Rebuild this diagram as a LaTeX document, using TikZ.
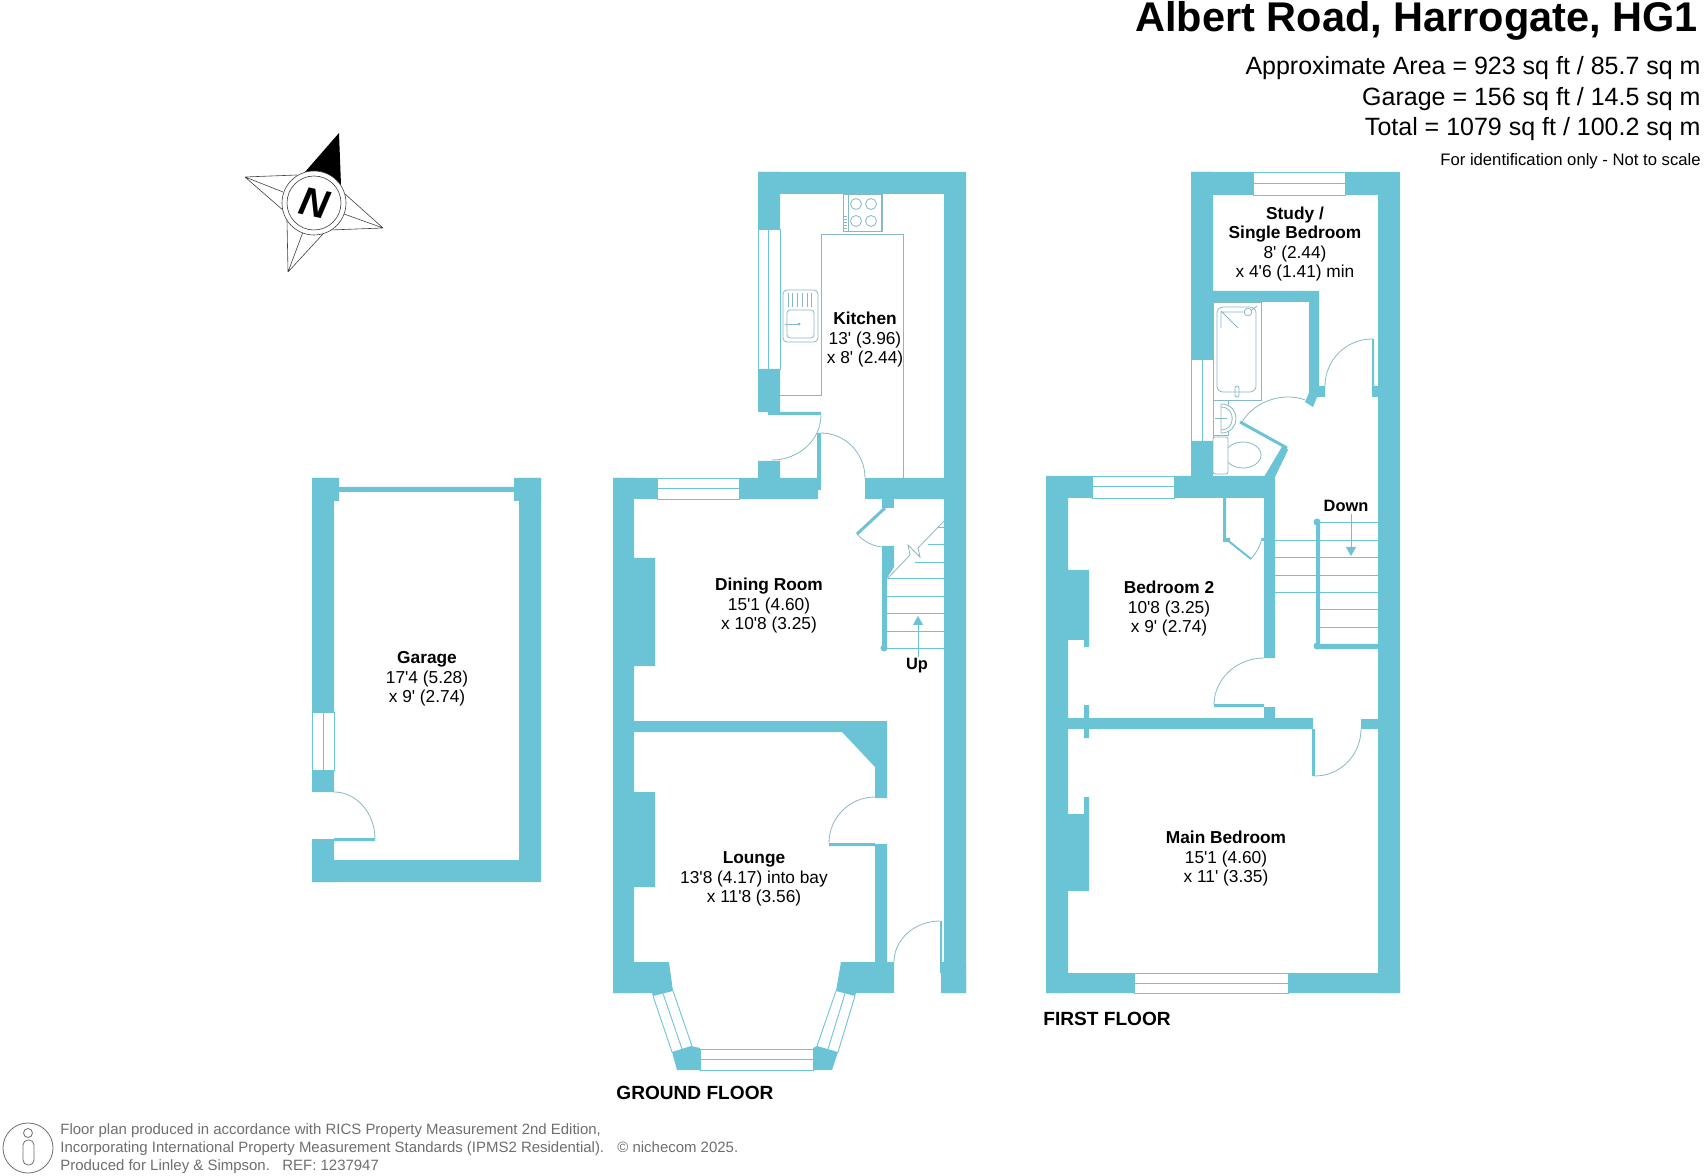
\documentclass[tikz,border=0pt]{standalone}
\usepackage{fontspec}
\usepackage{xcolor}
\usepackage{tikz}
\usetikzlibrary{calc}
\usetikzlibrary{arrows.meta}
\newfontfamily\planfont{Liberation Sans}
\definecolor{wallblue}{HTML}{6BC4D6}
\definecolor{swingblue}{HTML}{86B9C4}
\definecolor{footgray}{HTML}{6E6E6E}
\tikzstyle{wall}     = [fill=wallblue, draw=none]
\tikzstyle{leaf}     = [draw=wallblue, line width=1.5pt]
\tikzstyle{fine}     = [draw=wallblue, line width=0.45pt]
\tikzstyle{fixture}  = [draw=swingblue, line width=0.4pt, fill=white]
\tikzstyle{swing}    = [draw=swingblue, line width=0.4pt]
\tikzstyle{needle}   = [draw=black!75, line width=0.3pt]
\tikzstyle{room}     = [inner sep=0pt, align=center, font=\planfont\fontsize{8.65}{9.75}\selectfont]
\tikzstyle{floorname}= [inner sep=0pt, anchor=west, font=\planfont\bfseries\fontsize{9.55}{11}\selectfont]
\tikzstyle{stairnote}= [inner sep=0pt, font=\planfont\bfseries\fontsize{8.2}{10}\selectfont]
\tikzstyle{stairline}= [draw=wallblue, line width=0.45pt, -{Triangle[width=5pt,length=4.5pt]}]
\tikzstyle{title}    = [inner sep=0pt, anchor=base east, font=\planfont\bfseries\fontsize{20.75}{24}\selectfont]
\tikzstyle{areas}    = [inner sep=0pt, anchor=base east, font=\planfont\fontsize{12.5}{14}\selectfont]
\tikzstyle{foot}     = [inner sep=0pt, text=footgray, font=\planfont\fontsize{7.48}{9.1}\selectfont]
\newcommand{\doorswing}[3]{\draw[swing] (#1) .. controls ($(#1)!.55!(#2)$) and ($(#3)!.55!(#2)$) .. (#3);}
\newcommand{\glazing}[4]{\draw[fine] (#1) rectangle (#2) (#3) -- (#4);}
\begin{document}
\begin{tikzpicture}[x=0.5pt, y=-0.5pt]
	\useasboundingbox (0,0) rectangle (1704,1176);

	\node [title] (head) at (1698.5,32) {Albert Road, Harrogate, HG1};
	\node [areas] (area) at (1701,75) {Approximate Area = 923 sq ft / 85.7 sq m};
	\node [areas] (garagearea) at (1701,106) {Garage = 156 sq ft / 14.5 sq m};
	\node [areas] (total) at (1701,136) {Total = 1079 sq ft / 100.2 sq m};
	\node [inner sep=0pt, anchor=base east, font=\planfont\fontsize{8.33}{10}\selectfont] (noscale) at (1701,166) {For identification only - Not to scale};

	\fill [black] (305,172) -- (339,133) -- (341,185) -- cycle;
	\draw [needle] (245,177) -- (297,175) (245,177) -- (283,192) (245,177) -- (284,211);
	\draw [needle] (383,228) -- (345,194) (383,228) -- (344,214) (383,228) -- (330,230);
	\draw [needle] (288,272) -- (287,220) (288,272) -- (303,232) (288,272) -- (323,234);
	\draw [needle, fill=white] (314,203) circle (32);
	\draw [needle] (314,203) circle (27);
	\node [inner sep=0pt, rotate=-12, font=\planfont\bfseries\itshape\fontsize{20}{20}\selectfont] (north) at (314,203) {N};

	\fill [wall] (312,478) rectangle (339,501) (514,478) rectangle (541,501) (339,487) rectangle (514,492);
	\fill [wall] (312,478) rectangle (334,712) (312,770) rectangle (334,792) (312,839) rectangle (334,882);
	\fill [wall] (519,478) rectangle (541,882) (312,860) rectangle (541,882) (334,838) rectangle (375,841);
	\glazing{312,712}{334,770}{323,712}{323,770}
	\doorswing{334,792}{375,792}{375,839}
	\node [room] (garage) at (427,679) {\textbf{Garage}\\17'4 (5.28)\\x 9' (2.74)};

	\fill [wall] (758,172) rectangle (966,194) (944,172) rectangle (966,993);
	\fill [wall] (758,172) rectangle (780,229) (758,369) rectangle (780,412) (768,412) rectangle (821,415) (758,461) rectangle (780,478);
	\fill [wall] (613,478) rectangle (657,499) (739,478) rectangle (818,499) (865,478) rectangle (944,499) (817,433) rectangle (821,490);
	\fill [wall] (613,478) rectangle (634,993) (634,558) rectangle (655,666) (634,792) rectangle (655,887);
	\fill [wall] (634,721) -- (887,721) -- (887,798) -- (875,798) -- (875,767) -- (842,732) -- (634,732) -- cycle;
	\fill [wall] (875,844) rectangle (887,962) (829,843) rectangle (875,846) (940,921) rectangle (942,973) (941,962) rectangle (966,993);
	\fill [wall] (882,499) rectangle (894,508);
	\fill [wall] (882,546) -- (894,546) -- (894,567) -- (887,578) -- (887,648) -- (882,648) -- cycle;
	\fill [wall] (884,648) circle (3.5);
	\draw [leaf] (885,508) -- (857,534);
	\fill [wall] (634,962) -- (669,962) -- (673,991) -- (653,996) -- (652,993) -- (613,993) -- (613,962) -- cycle;
	\fill [wall] (841,962) -- (894,962) -- (894,993) -- (856,993) -- (855,996) -- (836,991) -- cycle;
	\fill [wall] (672,1052) -- (691,1046) -- (700,1048) -- (700,1070) -- (677,1070) -- cycle;
	\fill [wall] (813,1070) -- (813,1048) -- (817,1046) -- (838,1052) -- (832,1070) -- cycle;
	\glazing{758,229}{780,369}{768,229}{768,369}
	\glazing{657,478}{739,499}{657,488.5}{739,488.5}
	\glazing{700,1049}{813,1070}{700,1059.5}{813,1059.5}
	\draw [fine] (653,996) -- (672,1052) (673,991) -- (692,1046) (663,993.5) -- (682,1049);
	\draw [fine] (855,996) -- (838,1052) (836,991) -- (817,1046) (845,993.5) -- (828,1049);
	\doorswing{821,415}{821,460}{772,460}
	\doorswing{821,433}{865,433}{865,478}
	\doorswing{875,797}{829,797}{829,843}
	\doorswing{940,921}{894,921}{894,962}
	\draw [swing] (857,534) .. controls (863,541) and (872,546) .. (882,547);
	\draw [swing] (780,395) -- (821,395) -- (821,234) -- (903,234) -- (903,478);
	\draw [fixture] (843,194) rectangle (882,231);
	\draw [swing] (848,194) -- (848,231) (881,194) -- (881,231);
	\foreach \hobx in {856,871}
		\foreach \hoby in {204,221}
			\draw [swing] (\hobx,\hoby) circle (5.5);
	\foreach \knoby in {216,219,222,225,228}
		\draw [swing] (844,\knoby) -- (847,\knoby);
	\draw [fixture, rounded corners=2pt] (783,290) rectangle (818,342);
	\draw [swing, rounded corners=1.5pt] (787,310) rectangle (814,338);
	\foreach \groovex in {788,792,797,802,807,811}
		\draw [swing] (\groovex,293) -- (\groovex,307);
	\draw [swing] (785,324) -- (799,324);
	\fill [wallblue] (799,324) circle (1.5);
	\foreach \risery/\riserx in {578/887,596/887,613/887,631/887,648/887,562/915,544/928,527/938}
		\draw [fine] (\riserx,\risery) -- (944,\risery);
	\draw [swing] (888,578) -- (910,555) -- (908,545) -- (920,557) -- (918,548) -- (944,521);
	\node [stairnote] (up) at (917,666) {Up};
	\coordinate (uptip) at (918,616);
	\draw [stairline] (918,657) -- (uptip);
	\node [room] (kitchen) at (865,340) {\textbf{Kitchen}\\13' (3.96)\\x 8' (2.44)};
	\node [room] (dining) at (769,606) {\textbf{Dining Room}\\15'1 (4.60)\\x 10'8 (3.25)};
	\node [room] (lounge) at (754,879) {\textbf{Lounge}\\13'8 (4.17) into bay\\x 11'8 (3.56)};
	\node [floorname] (ground) at (616,1093) {GROUND FLOOR};

	\fill [wall] (1191,172) rectangle (1253,195) (1345,172) rectangle (1400,195) (1378,172) rectangle (1400,993);
	\fill [wall] (1191,172) rectangle (1213,359) (1191,441) rectangle (1213,478);
	\fill [wall] (1046,476) rectangle (1092,498) (1174,476) rectangle (1275,498) (1046,476) rectangle (1068,993);
	\fill [wall] (1046,973) rectangle (1134,993) (1288,973) rectangle (1400,993);
	\fill [wall] (1213,291) rectangle (1319,302) (1309,291) rectangle (1319,393);
	\fill [wall] (1309,386) -- (1325,386) -- (1325,397) -- (1317,397) -- (1313,407) -- (1305,402) -- (1309,393) -- cycle;
	\fill [wall] (1264,477) -- (1283,445) -- (1288,450) -- (1275,477) -- cycle;
	\draw [leaf] (1240,422) -- (1287,448);
	\fill [wall] (1372,339) rectangle (1374,397) (1372,386) rectangle (1378,397);
	\fill [wall] (1264,498) rectangle (1275,658) (1264,707) rectangle (1275,718) (1214,704) rectangle (1264,707);
	\fill [wall] (1223,498) rectangle (1226,542) (1223,538) rectangle (1230,542) (1262,538) rectangle (1264,541);
	\draw [leaf, line width=1pt] (1226,539) -- (1251,559);
	\fill [wall] (1068,570) rectangle (1089,640) (1084,640) rectangle (1089,647);
	\fill [wall] (1068,718) rectangle (1313,729) (1084,705) rectangle (1089,738) (1312,729) rectangle (1315,776) (1361,719) rectangle (1378,729);
	\fill [wall] (1084,797) rectangle (1089,814) (1068,814) rectangle (1089,891);
	\glazing{1253,172}{1345,195}{1253,183}{1345,183}
	\glazing{1191,359}{1213,441}{1202,359}{1202,441}
	\glazing{1092,476}{1174,498}{1092,486}{1174,486}
	\glazing{1134,973}{1288,993}{1134,983}{1288,983}
	\doorswing{1372,339}{1325,339}{1325,386}
	\doorswing{1264,658}{1214,658}{1214,705}
	\doorswing{1315,776}{1361,776}{1361,729}
	\draw [swing] (1242,422) .. controls (1255,400) and (1285,392) .. (1305,400);
	\draw [swing] (1251,559) .. controls (1256,553) and (1260,547) .. (1262,538);
	\draw [swing] (1213,302) rectangle (1261,400);
	\draw [swing, rounded corners=3pt] (1217,307) rectangle (1256,392);
	\draw [swing] (1221,328) -- (1221,312) -- (1249,312) (1221,311) -- (1238,328) (1249,312) -- (1257,306);
	\draw [fixture] (1248,312) circle (3.8);
	\draw [swing, rounded corners=1pt] (1235,386) rectangle (1239,397);
	\draw [swing] (1213,400) rectangle (1228,435);
	\draw [fixture] (1221,404) .. controls (1241,404) and (1241,433) .. (1221,433) -- cycle;
	\draw [swing] (1221,407) .. controls (1236,407) and (1236,430) .. (1221,430);
	\draw [swing] (1215,418) -- (1227,418);
	\draw [fixture] (1243,455) ellipse (18 and 13);
	\draw [fixture, rounded corners=1pt] (1213,437) rectangle (1228,474);
	\foreach \tready in {522,609,627}
		\draw [fine] (1317,\tready) -- (1378,\tready);
	\foreach \tready in {540,557,575,592}
		\draw [fine] (1275,\tready) -- (1378,\tready);
	\fill [wall] (1316,522) rectangle (1320,646) (1317,644) rectangle (1378,649);
	\fill [wall] (1317,522) circle (3.5) (1317,646) circle (3.5);
	\node [stairnote] (down) at (1346,506) {Down};
	\coordinate (downfrom) at (1351,514);
	\coordinate (downtip) at (1351,556);
	\draw [stairline] (downfrom) -- (downtip);
	\node [room] (study) at (1295,244) {\textbf{Study /}\\\textbf{Single Bedroom}\\8' (2.44)\\x 4'6 (1.41) min};
	\node [room] (bedtwo) at (1169,609) {\textbf{Bedroom 2}\\10'8 (3.25)\\x 9' (2.74)};
	\node [room] (mainbed) at (1226,859) {\textbf{Main Bedroom}\\15'1 (4.60)\\x 11' (3.35)};
	\node [floorname] (first) at (1043,1019) {FIRST FLOOR};

	\draw [footgray, line width=0.4pt] (28,1148) circle (25);
	\draw [footgray, line width=0.4pt] (28,1133) circle (4.5);
	\draw [footgray, line width=0.4pt, rounded corners=2.5pt] (23,1140) rectangle (34,1165);
	\node [foot, anchor=west, align=left] (credit) at (60,1148.5) {Floor plan produced in accordance with RICS Property Measurement 2nd Edition,\\Incorporating International Property Measurement Standards (IPMS2 Residential).\\Produced for Linley \& Simpson.\ \ \ REF:\ 1237947};
	\node [foot, anchor=west] (maker) at (617,1147) {© nichecom 2025.};
\end{tikzpicture}
\end{document}
